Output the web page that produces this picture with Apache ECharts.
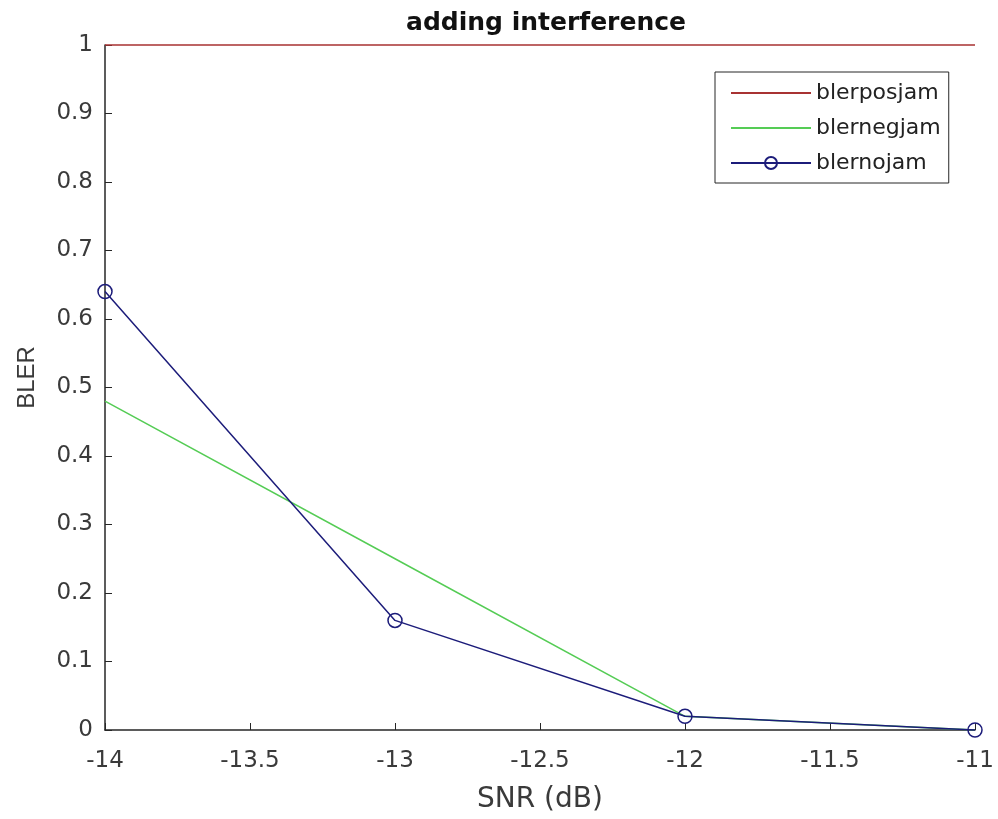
<!DOCTYPE html>
<html>
<head>
<meta charset="utf-8">
<script src="https://cdn.jsdelivr.net/npm/echarts@6/dist/echarts.min.js"></script>
<style>
  html, body { margin: 0; padding: 0; background: #fff; }
  #chart { width: 998px; height: 819px; }
</style>
</head>
<body>
<div id="chart"></div>
<script>
const snr = [-14, -13, -12, -11];
const blerPosJam = [1, 1, 1, 1];
const blerNegJam = [0.48, 0.25, 0.02, 0];
const blerNoJam = [0.64, 0.16, 0.02, 0];

const COLORS = {
  pos: '#a83232',
  neg: '#55cc55',
  no: '#1c1c7a',
  axis: '#262626',
  text: '#3a3a3a'
};

const pairs = (ys) => snr.map((x, i) => [x, ys[i]]);

const font = 'DejaVu Sans, sans-serif';

const option = {
  backgroundColor: '#fff',
  animation: false,
  title: {
    text: 'adding interference',
    left: 541,
    textAlign: 'center',
    top: 6,
    textStyle: { fontFamily: font, fontSize: 25, fontWeight: 'bold', color: '#111' }
  },
  grid: { left: 105, right: 23, top: 45, bottom: 88 },
  legend: {
    left: 715,
    top: 72,
    orient: 'vertical',
    padding: [10, 8, 9, 15],
    itemGap: 13,
    itemWidth: 80,
    itemHeight: 15,
    borderColor: COLORS.axis,
    borderWidth: 1,
    borderRadius: 0,
    backgroundColor: '#fff',
    textStyle: { fontFamily: font, fontSize: 22, color: '#222' },
    data: [
      { name: 'blerposjam', itemStyle: { opacity: 0 } },
      { name: 'blernegjam', itemStyle: { opacity: 0 } },
      { name: 'blernojam' }
    ]
  },
  xAxis: {
    type: 'value',
    min: -14,
    max: -11,
    interval: 0.5,
    name: 'SNR (dB)',
    nameLocation: 'middle',
    nameGap: 56,
    nameTextStyle: { fontFamily: font, fontSize: 28, color: COLORS.text },
    axisLine: { lineStyle: { color: COLORS.axis, width: 1.5 } },
    axisTick: { inside: true, length: 7, lineStyle: { color: COLORS.axis } },
    axisLabel: { fontFamily: font, fontSize: 23, color: COLORS.text, margin: 20 },
    splitLine: { show: false }
  },
  yAxis: {
    type: 'value',
    min: 0,
    max: 1,
    interval: 0.1,
    name: 'BLER',
    nameLocation: 'middle',
    nameGap: 66,
    nameTextStyle: {
      fontFamily: 'Liberation Sans, Arial, sans-serif',
      fontSize: 24,
      color: COLORS.text,
      padding: [0, 0, 0, 20]
    },
    axisLine: { show: true, lineStyle: { color: COLORS.axis, width: 1.5 } },
    axisTick: { show: true, inside: true, length: 7, lineStyle: { color: COLORS.axis } },
    axisLabel: { fontFamily: font, fontSize: 23, color: COLORS.text, margin: 12 },
    splitLine: { show: false }
  },
  series: [
    {
      name: 'blerposjam',
      type: 'line',
      data: pairs(blerPosJam),
      symbol: 'none',
      clip: false,
      lineStyle: { color: COLORS.pos, width: 1.5 },
      itemStyle: { color: COLORS.pos }
    },
    {
      name: 'blernegjam',
      type: 'line',
      data: pairs(blerNegJam),
      symbol: 'none',
      lineStyle: { color: COLORS.neg, width: 1.5 },
      itemStyle: { color: COLORS.neg }
    },
    {
      name: 'blernojam',
      type: 'line',
      data: pairs(blerNoJam),
      symbol: 'circle',
      symbolSize: 14,
      clip: false,
      lineStyle: { color: COLORS.no, width: 1.5 },
      itemStyle: { color: 'transparent', borderColor: COLORS.no, borderWidth: 1.5 }
    }
  ]
};

const chart = echarts.init(document.getElementById('chart'));
chart.setOption(option);
</script>
</body>
</html>
